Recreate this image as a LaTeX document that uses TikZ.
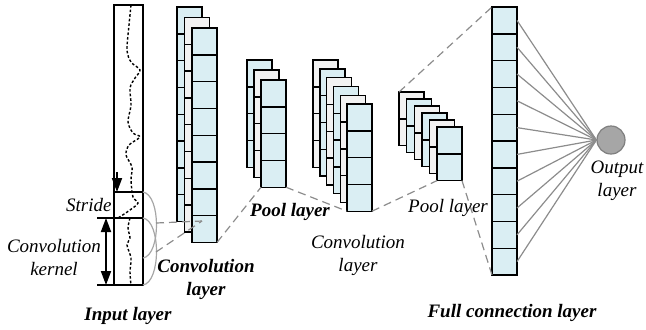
\documentclass[tikz,border=0pt]{standalone}
\usepackage{fontspec}
\setmainfont{Liberation Serif}
\usepackage{tikz}
\usetikzlibrary{positioning,arrows.meta}
\definecolor{mapblue}{HTML}{DAEEF3}
\definecolor{mapgray}{HTML}{F2F2F2}
\definecolor{linegray}{HTML}{8C8C8C}
\definecolor{outgray}{HTML}{A6A6A6}
\definecolor{outedge}{HTML}{7F7F7F}
\tikzset{map node/.style={draw,line width=0.7pt,minimum width=12.5pt,inner sep=0pt,outer sep=0pt,anchor=north west},}
\tikzset{blue map/.style={map node,fill=mapblue},}
\tikzset{gray map/.style={map node,fill=mapgray},}
\tikzset{dash line/.style={draw=linegray,line width=0.6pt,dash pattern=on 4pt off 2.5pt},}
\tikzset{label text/.style={font=\fontsize{9.5}{11.5}\selectfont\itshape,align=center,inner sep=0pt},}
\tikzset{title text/.style={font=\fontsize{9.5}{11.5}\selectfont\bfseries\itshape,align=center,inner sep=0pt},}

% feature map: name, style, x, y, number of cells
\newcommand{\featmap}[5]{%
  \node[#2,minimum height=#5*13.4pt] (#1) at (#3,#4) {};
  \foreach \k in {2,...,#5}
    \draw[line width=0.7pt] (#1.north west) ++(0,{(\k-1)*26.8}) -- ++(25,0);
}

\begin{document}
\begin{tikzpicture}[x=0.5pt,y=-0.5pt]
       \useasboundingbox (0,0) rectangle (646,329);

       % input signal
       \node[draw,line width=0.7pt,minimum width=14.5pt,minimum height=140pt,inner sep=0pt,outer sep=0pt,anchor=north west] (input) at (114,5) {};
       \coordinate (stride) at (114,192);
       \coordinate (ktop) at (97,218);
       \coordinate (kbot) at (97,285);
       \draw[line width=0.7pt] (stride) -- ++(29,0);
       \draw[line width=0.7pt] (ktop) -- ++(46,0);
       \draw[line width=0.7pt] (kbot) -- (input.south west);
       \draw[line width=0.7pt,dash pattern=on 1.3pt off 1pt] plot[smooth] coordinates
         {(131,5) (129,25) (127,50) (131,62) (140,70) (135,78) (130,88) (131,105) (128,122) (133,133) (140,137) (129,145) (126,155) (132,167) (131,180) (133,197) (138,203) (130,210) (118,218)};
       \draw[line width=0.7pt,dash pattern=on 1.3pt off 1pt] plot[smooth] coordinates
         {(130,218) (128,228) (130,238) (127,245) (131,258) (130,272) (131,285)};
       \draw[line width=0.9pt,-{Triangle[width=5pt,length=7pt]}] (117,172) -- (stride -| 117,0);
       \draw[line width=0.9pt,{Triangle[width=5pt,length=7pt]}-{Triangle[width=5pt,length=7pt]}] (106,218) -- (106,285);

       % kernel brackets
       \draw[outgray,line width=0.6pt] (143,192) .. controls (161,195) and (161,255) .. (143,258);
       \draw[outgray,line width=0.6pt] (143,218) .. controls (161,221) and (161,282) .. (143,285);
       \coordinate (b1) at (156,223);
       \coordinate (b2) at (156,252);

       % convolution layer
       \featmap{c11}{blue map}{177}{7}{8}
       \featmap{c12}{gray map}{184.5}{17.5}{8}
       \featmap{c13}{blue map}{192}{28}{8}
       \coordinate (k) at (202,221);

       % pool layer
       \featmap{p11}{blue map}{247}{60}{4}
       \featmap{p12}{gray map}{254}{70}{4}
       \featmap{p13}{blue map}{261}{80}{4}

       % second convolution layer
       \foreach \i/\x/\y/\s in {1/313/60/gray map,2/319.8/68.8/blue map,3/326.6/77.6/gray map,
                               4/333.4/86.4/blue map,5/340.2/95.2/gray map,6/347/104/blue map}
         {\featmap{c2\i}{\s}{\x}{\y}{4}}

       % second pool layer
       \foreach \i/\x/\y/\s in {1/399/92/gray map,2/406.6/99/blue map,3/414.2/106/gray map,
                               4/421.8/113/blue map,5/429.4/120/gray map,6/437/127/blue map}
         {\featmap{p2\i}{\s}{\x}{\y}{2}}

       % full connection and output
       \featmap{fc}{blue map}{492}{7}{10}
       \node[circle,fill=outgray,draw=outedge,line width=0.6pt,minimum size=14pt,inner sep=0pt] (out) at (611,140) {};
       \foreach \k in {1,...,10}
         \draw[linegray,line width=0.6pt] (fc.north east) ++(0,{\k*26.8-13.4}) -- (out.west);

       \draw[dash line] (b1) -- (k);
       \draw[dash line] (b2) -- (k);
       \draw[dash line] (c13.south east) -- (p13.south west);
       \draw[dash line] (p13.south east) -- (c26.south west);
       \draw[dash line] (c26.south east) -- (p26.south west);
       \draw[dash line] (p21.north west) -- (fc.north west);
       \draw[dash line] (p26.south east) -- (fc.south west);

       % labels
       \node[label text,anchor=east] (stridetxt) at (112,205) {Stride};
       \node[label text] (kerneltxt) at (54,257) {Convolution\\kernel};
       \node[title text] (inputtxt) at (128,316) {Input layer};
       \node[title text] (conv1txt) at (206,279) {Convolution\\layer};
       \node[title text] (pool1txt) at (290,212) {Pool layer};
       \node[label text] (conv2txt) at (358,255) {Convolution\\layer};
       \node[label text] (pool2txt) at (448,208) {Pool layer};
       \node[label text] (outtxt) [below=3pt of out,xshift=3pt] {Output\\layer};
       \node[title text] (fctxt) at (512,313) {Full connection layer};
    \end{tikzpicture}
\end{document}
